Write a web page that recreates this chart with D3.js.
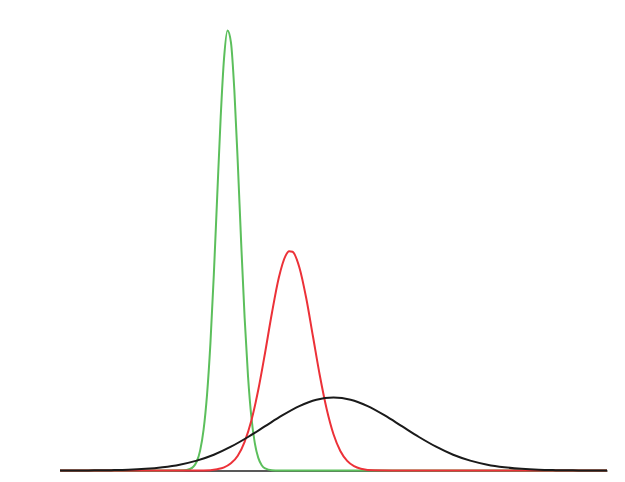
<!DOCTYPE html>
<html>
<head>
<meta charset="utf-8">
<script src="https://cdn.jsdelivr.net/npm/d3@7"></script>
<style>
  body { margin: 0; background: #fff; }
</style>
</head>
<body>
<svg id="chart" width="625" height="482"></svg>
<script>
// values (x in prior-sd units, y as density)
var black_x = [-4, -3.75, -3.5, -3.25, -3, -2.75, -2.5, -2.25, -2, -1.75, -1.5, -1.25, -1, -0.75, -0.5, -0.25,
               0, 0.25, 0.5, 0.75, 1, 1.25, 1.5, 1.75, 2, 2.25, 2.5, 2.75, 3, 3.25, 3.5, 3.75, 4];
var black_y = [0, 0, 0.001, 0.002, 0.004, 0.009, 0.018, 0.032, 0.054, 0.086, 0.130, 0.183, 0.242, 0.301, 0.352, 0.387,
               0.399, 0.387, 0.352, 0.301, 0.242, 0.183, 0.130, 0.086, 0.054, 0.032, 0.018, 0.009, 0.004, 0.002, 0.001, 0, 0];

var red_x = [-4, -3, -2.5, -2, -1.8, -1.7, -1.6, -1.5, -1.4, -1.3, -1.2, -1.1, -1, -0.9, -0.8, -0.7, -0.65, -0.6,
             -0.5, -0.4, -0.3, -0.2, -0.1, 0, 0.1, 0.2, 0.3, 0.4, 0.6, 1, 2, 3, 4];
var red_y = [0, 0, 0, 0, 0.002, 0.007, 0.017, 0.039, 0.081, 0.157, 0.275, 0.441, 0.645, 0.862, 1.053, 1.174, 1.198, 1.195,
             1.111, 0.944, 0.732, 0.519, 0.336, 0.198, 0.107, 0.053, 0.024, 0.010, 0.001, 0, 0, 0, 0];

var green_x = [-4, -3, -2.5, -2.2, -2.1, -2, -1.95, -1.9, -1.85, -1.8, -1.75, -1.7, -1.65, -1.6, -1.55, -1.5, -1.45,
               -1.4, -1.35, -1.3, -1.25, -1.2, -1.15, -1.1, -1.05, -1, -0.9, -0.8, -0.5, 0, 1, 2, 3, 4];
var green_y = [0, 0, 0, 0.001, 0.008, 0.049, 0.110, 0.223, 0.412, 0.696, 1.072, 1.506, 1.930, 2.256, 2.405, 2.340, 2.077,
               1.682, 1.241, 0.836, 0.514, 0.288, 0.148, 0.069, 0.029, 0.011, 0.001, 0, 0, 0, 0, 0, 0, 0];

var x_domain = [-4, 4];
var y_domain = [0, 2.5];

var svg = d3.select("#chart");

var x = d3.scaleLinear().domain(x_domain).range([60, 607]);
var y = d3.scaleLinear().domain(y_domain).range([470.5, 13]);

// baseline only, no ticks or labels
var axis = svg.append("g")
              .attr("transform", "translate(0," + y(0) + ")")
              .call(d3.axisBottom(x).ticks(0).tickSize(0).tickSizeOuter(0));
axis.select(".domain").attr("stroke", "#222").attr("stroke-width", 1.5);
axis.selectAll("text").remove();

var line = d3.line()
             .x(function (d) { return x(d[0]); })
             .y(function (d) { return y(d[1]); })
             .curve(d3.curveMonotoneX);

var series = [
  { xs: green_x, ys: green_y, color: "#5cbf5c" },
  { xs: red_x,   ys: red_y,   color: "#ec3138" },
  { xs: black_x, ys: black_y, color: "#1a1a1a" }
];

series.forEach(function (s) {
  var pts = s.xs.map(function (v, i) { return [v, s.ys[i]]; });
  svg.append("path")
     .datum(pts)
     .attr("d", line)
     .attr("fill", "none")
     .attr("stroke", s.color)
     .attr("stroke-width", 2)
     .attr("stroke-linejoin", "round");
});
</script>
</body>
</html>
